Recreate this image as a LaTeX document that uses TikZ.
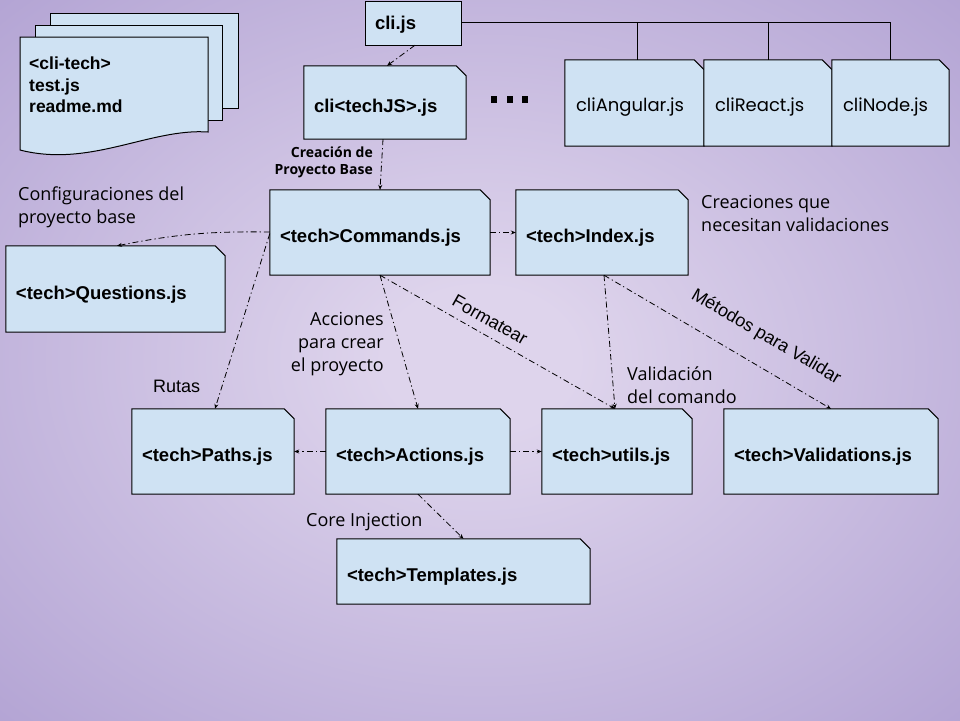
\documentclass[tikz,border=0pt]{standalone}
\usepackage{fontspec}
\setmainfont{Liberation Sans}
\newfontfamily\comicf{Open Sans}
\newfontfamily\roundf{Poppins}
\usetikzlibrary{arrows.meta,fit,calc}
\definecolor{bgin}{RGB}{222,212,236}
\definecolor{bgout}{RGB}{140,120,190}
\definecolor{cardfill}{RGB}{207,226,243}
\pgfdeclareradialshading{bgshade}{\pgfpointorigin}{color(0bp)=(bgin); color(5bp)=(bgin); color(64bp)=(bgout); color(100bp)=(bgout)}
\tikzset{
  cardline/.style={draw=black, line width=1pt, fill=cardfill},
  boxarea/.style={inner sep=0pt, draw=none},
  boxtext/.style={anchor=west, inner sep=0pt, font=\bfseries\fontsize{18.5}{22}\selectfont},
  roundtext/.style={anchor=west, inner sep=0pt, font=\roundf\fontsize{18}{20}\selectfont},
  comic/.style={inner sep=0pt, font=\comicf\fontsize{18}{23}\selectfont},
  arial/.style={inner sep=0pt, font=\fontsize{18}{20}\selectfont},
  conn/.style={line width=0.8pt, dash pattern=on 6pt off 3pt on 1.2pt off 3pt, -{Stealth[length=5pt,width=4pt]}},
  tree/.style={line width=0.8pt, draw=black}
}
\newcommand\card[6]{%
  \node[boxarea, fit={(#2,#3)(#4,#5)}] (#1) {};
  \draw[cardline] (#1.south west) -- (#1.north west) -- ([xshift=-10pt]#1.north east) -- ([yshift=-10pt]#1.north east) -- (#1.south east) -- cycle;
  \node[boxtext] (#1T) at ([xshift=10pt,yshift=-5.5pt]#1.west) {#6};
}
\newcommand\rcard[6]{%
  \node[boxarea, fit={(#2,#3)(#4,#5)}] (#1) {};
  \draw[cardline] (#1.south west) -- (#1.north west) -- ([xshift=-10pt]#1.north east) -- ([yshift=-10pt]#1.north east) -- (#1.south east) -- cycle;
  \node[roundtext] (#1T) at ([xshift=11pt,yshift=-4pt]#1.west) {#6};
}
\begin{document}
\begin{tikzpicture}[x=1pt,y=-1pt]
\shade[shading=bgshade] (0,0) rectangle (960,720);
\useasboundingbox (0,0) rectangle (960,720);

% document stack
\draw[cardline] (50,13) rectangle (238,108);
\draw[cardline] (35,25) rectangle (222,120);
\draw[cardline] (20,37) -- (208,37) -- (208,132) .. controls (150,128) and (90,168) .. (20,150) -- cycle;
\node[boxarea, fit={(20,37)(208,150)}] (docs) {};
\node[boxtext, anchor=north west, align=left, font=\bfseries\fontsize{17.5}{21.5}\selectfont] (docsT) at (29,57) {<cli-tech>\\test.js\\readme.md};

% top
\node[boxarea, fit={(366,2)(461,45)}] (cli) {};
\draw[cardline] (cli.south west) rectangle (cli.north east);
\node[boxtext] (cliT) at ([xshift=9pt,yshift=-1pt]cli.west) {cli.js};

\card{clitech}{304}{66}{466}{139}{cli<techJS>.js}
\rcard{ang}{565}{60}{704}{146}{cliAngular.js}
\rcard{react}{704}{60}{832}{146}{cliReact.js}
\rcard{nodejs}{832}{60}{949}{146}{cliNode.js}

\coordinate (tA) at (637,22);
\coordinate (tR) at (768,22);
\coordinate (tN) at (890,22);
\draw[tree] (cli.east |- tA) -- (tN) -- (tN |- nodejs.north);
\draw[tree] (tA) -- (tA |- ang.north);
\draw[tree] (tR) -- (tR |- react.north);

% dots
\fill (491,96) rectangle (497,103);
\fill (507,96) rectangle (513,103);
\fill (522,96) rectangle (528,103);

\card{commands}{270}{190}{490}{275}{<tech>Commands.js}
\card{index}{516}{190}{688}{275}{<tech>Index.js}
\card{questions}{6}{246}{225}{332}{<tech>Questions.js}
\card{paths}{132}{409}{294}{494}{<tech>Paths.js}
\card{actions}{326}{409}{510}{494}{<tech>Actions.js}
\card{utils}{542}{409}{692}{494}{<tech>utils.js}
\card{valid}{724}{409}{938}{494}{<tech>Validations.js}
\card{templ}{337}{539}{590}{604}{<tech>Templates.js}

% connectors
\draw[conn] ([xshift=1.5pt]cli.south) -- ([xshift=2pt]clitech.north);
\draw[conn] ([xshift=-2pt]clitech.south) -- (commands.north);
\draw[conn] ([yshift=0.5pt]commands.west) to[bend right=6] ([xshift=1.5pt]questions.north);
\draw[conn] (commands.east) -- (index.west);
\draw[conn] ([yshift=-1pt]commands.west) -- ([xshift=2pt]paths.north);
\draw[conn] (commands.south) -- (actions.north);
\draw[conn] (commands.south) -- ([xshift=-2pt]utils.north);
\draw[conn] ([xshift=2pt]index.south) -- ([xshift=-2pt]utils.north);
\draw[conn] ([xshift=2pt]index.south) -- (valid.north);
\draw[conn] (actions.west) -- (paths.east);
\draw[conn] (actions.east) -- (utils.west);
\draw[conn] (actions.south) -- (templ.north);

% labels
\node[comic, anchor=north east, align=right, font=\comicf\bfseries\fontsize{14}{17}\selectfont] (lblBase) at (373,147) {Creación de\\Proyecto Base};
\node[comic, anchor=north west, align=left] (lblConf) at (18,187) {Configuraciones del\\proyecto base};
\node[comic, anchor=north east, align=right] (lblAcc) at (384,312) {Acciones\\para crear\\el proyecto};
\node[arial, anchor=west] (lblRutas) at (153,386) {Rutas};
\node[arial, rotate=-29.5] (lblFmt) at (490,320) {Formatear};
\node[comic, anchor=north west, align=left] (lblCrea) at (701,195) {Creaciones que\\necesitan validaciones};
\node[arial, rotate=-30.5] (lblMet) at (766,337) {Métodos para Validar};
\node[comic, anchor=north west, align=left] (lblVal) at (627,367) {Validación\\del comando};
\node[comic, anchor=west] (lblCore) at (306,522) {Core Injection};
\end{tikzpicture}
\end{document}
